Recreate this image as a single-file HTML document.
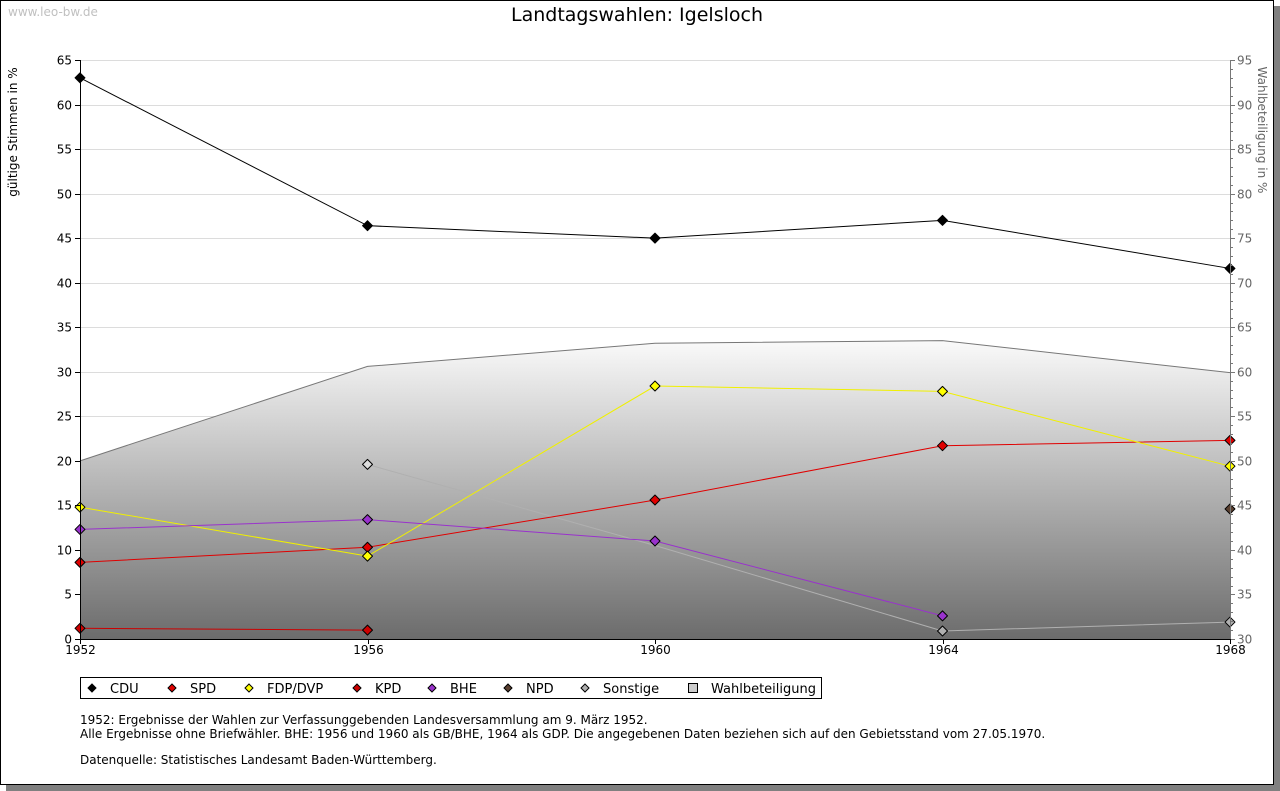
<!DOCTYPE html>
<html><head><meta charset="utf-8">
<style>
body{margin:0;background:#fff;font-family:"DejaVu Sans","Liberation Sans",sans-serif;}
#wrap{position:relative;width:1280px;height:791px;overflow:hidden;background:#fff}
svg text{font-family:"DejaVu Sans","Liberation Sans",sans-serif;}
</style></head>
<body>
<div id="wrap">
<svg id="chart" width="1280" height="791" xmlns="http://www.w3.org/2000/svg">
<defs>
<linearGradient id="ag" x1="0" y1="0" x2="0" y2="1">
<stop offset="0" stop-color="#fafafa"/><stop offset="1" stop-color="#6c6c6c"/>
</linearGradient>
</defs>
<rect x="6" y="6" width="1274" height="785" fill="#808080"/>
<rect x="0.5" y="0.5" width="1273" height="784" fill="#fff" stroke="#000"/>
<text x="8" y="16" font-size="12" fill="#c0c0c0">www.leo-bw.de</text>
<text x="637" y="21" font-size="19" text-anchor="middle" fill="#000">Landtagswahlen: Igelsloch</text>
<text transform="translate(17,132) rotate(-90)" font-size="12" text-anchor="middle">gültige Stimmen in %</text>
<text transform="translate(1258,130) rotate(90)" font-size="12" text-anchor="middle" fill="#666">Wahlbeteiligung in %</text>
<g id="grid"></g><g id="area"></g><g id="series"></g><g id="axes"></g>
<g>
<rect x="80.5" y="677.5" width="741" height="21" fill="#fff" stroke="#000"/>
<g id="legend"></g>
</g>
<g font-size="12" fill="#000">
<text x="80" y="724">1952: Ergebnisse der Wahlen zur Verfassunggebenden Landesversammlung am 9. März 1952.</text>
<text x="80" y="738">Alle Ergebnisse ohne Briefwähler. BHE: 1956 und 1960 als GB/BHE, 1964 als GDP. Die angegebenen Daten beziehen sich auf den Gebietsstand vom 27.05.1970.</text>
<text x="80" y="764">Datenquelle: Statistisches Landesamt Baden-Württemberg.</text>
</g>
</svg>
</div>
<script>
const years=[1952,1956,1960,1964,1968];
const leftTicks=[0,5,10,15,20,25,30,35,40,45,50,55,60,65];
const rightTicks=[30,35,40,45,50,55,60,65,70,75,80,85,90,95];
const cdu=[63.0,46.4,45.0,47.0,41.6];
const spd=[8.6,10.3,15.6,21.7,22.3];
const fdp=[14.8,9.3,28.4,27.8,19.4];
const kpd=[1.2,1.0,null,null,null];
const bhe=[12.3,13.4,11.0,2.6,null];
const npd=[null,null,null,null,14.6];
const sonstige=[null,19.6,10.5,0.9,1.9];
const turnout=[50.0,60.6,63.2,63.5,59.9];
const NS="http://www.w3.org/2000/svg";
const X0=80,X1=1230,Y0=639,Y1=60;
const xs=y=>X0+(y-1952)/(1968-1952)*(X1-X0);
const yl=v=>Y0-v/65*(Y0-Y1);
const yr=v=>Y0-(v-30)/65*(Y0-Y1);
function mk(tag,attrs,parent){const e=document.createElementNS(NS,tag);for(const k in attrs)e.setAttribute(k,attrs[k]);parent.appendChild(e);return e;}
const grid=document.getElementById('grid'),axes=document.getElementById('axes'),area=document.getElementById('area'),ser=document.getElementById('series'),leg=document.getElementById('legend');
leftTicks.forEach(t=>{const y=Math.round(yl(t))+0.5;
 if(t>0){const g=mk('line',{x1:X0,x2:X1,y1:y,y2:y,stroke:'#dcdcdc'},grid);}
 mk('line',{x1:X0-5,x2:X0,y1:y,y2:y,stroke:'#000'},axes);
 const tx=mk('text',{x:X0-8,y:y+4,'font-size':12,'text-anchor':'end'},axes);tx.textContent=t;
 });
for(let v=30;v<=95;v++){const y=Math.round(yr(v))+0.5;mk('line',{x1:X1,x2:X1+(v%5?3:5),y1:y,y2:y,stroke:'#777'},axes);}
rightTicks.forEach(t=>{const y=Math.round(yr(t))+0.5;
 const tx=mk('text',{x:X1+7,y:y+4,'font-size':12,fill:'#666'},axes);tx.textContent=t;
 });
mk('line',{x1:X1+0.5,x2:X1+0.5,y1:Y1,y2:Y0,stroke:'#777'},axes);
mk('line',{x1:X0+0.5,x2:X0+0.5,y1:Y1,y2:Y0,stroke:'#000'},axes);
mk('line',{x1:X0,x2:X1,y1:Y0+0.5,y2:Y0+0.5,stroke:'#000'},axes);
years.forEach(yv=>{const x=Math.round(xs(yv))+0.5;mk('line',{x1:x,x2:x,y1:Y0,y2:Y0+5,stroke:'#000'},axes);
 const tx=mk('text',{x:x,y:Y0+15,'font-size':12,'text-anchor':'middle'},axes);tx.textContent=yv;
 });
let d='M'+xs(years[0])+','+Y0;turnout.forEach((v,i)=>d+=' L'+xs(years[i])+','+yr(v));d+=' L'+xs(years[years.length-1])+','+Y0+' Z';
const ap=mk('path',{d:d,fill:'url(#ag)'},area);

const tl=mk('polyline',{points:turnout.map((v,i)=>xs(years[i])+','+yr(v)).join(' '),fill:'none',stroke:'#777'},area);

const series=[['sonstige',sonstige,'#b0b0b0','#b0b0b0'],['cdu',cdu,'#000','#000'],['spd',spd,'#e00000','#e00000'],['fdp',fdp,'#f0f000','#ffff00'],['kpd',kpd,'#cc0000','#cc0000'],['bhe',bhe,'#9932cc','#9932cc'],['npd',npd,'#5a4030','#5a4030']];
series.forEach(([n,vals,col,fill])=>{
 const segs=[];let cur=[];vals.forEach((v,i)=>{if(v==null){if(cur.length)segs.push(cur);cur=[];}else cur.push([xs(years[i]),yl(v)]);});if(cur.length)segs.push(cur);
 segs.forEach(s=>{if(s.length>1){const p=mk('polyline',{points:s.map(q=>q.join(',')).join(' '),fill:'none',stroke:col,'stroke-width':1},ser);
  }});
 vals.forEach((v,i)=>{if(v==null)return;if(n==='sonstige'&&i===2)return;const x=xs(years[i]),y=yl(v);
  const m=mk('path',{d:`M${x},${y-5} L${x+5},${y} L${x},${y+5} L${x-5},${y} Z`,fill:(n==='sonstige'&&i===1)?'#ddd':fill,stroke:'#000','stroke-width':1,'stroke-linejoin':'round'},ser);
  });
});
const legItems=[['CDU','#000',92],['SPD','#e00000',172],['FDP/DVP','#ffff00',249],['KPD','#cc0000',357],['BHE','#9932cc',432],['NPD','#5a4030',508],['Sonstige','#b0b0b0',585],['Wahlbeteiligung','#ccc',693]];
legItems.forEach(([t,c,x])=>{const y=688;
 const g=mk('g',{},leg);
 if(t==='Wahlbeteiligung')mk('rect',{x:x-4.5,y:y-4.5,width:9,height:9,fill:'#ccc',stroke:'#000'},g);
 else mk('path',{d:`M${x},${y-4} L${x+4},${y} L${x},${y+4} L${x-4},${y} Z`,fill:c,stroke:'#000'},g);
 const tx=mk('text',{x:x+18,y:y+5,'font-size':13},g);tx.textContent=t;});
</script>
</body></html>
